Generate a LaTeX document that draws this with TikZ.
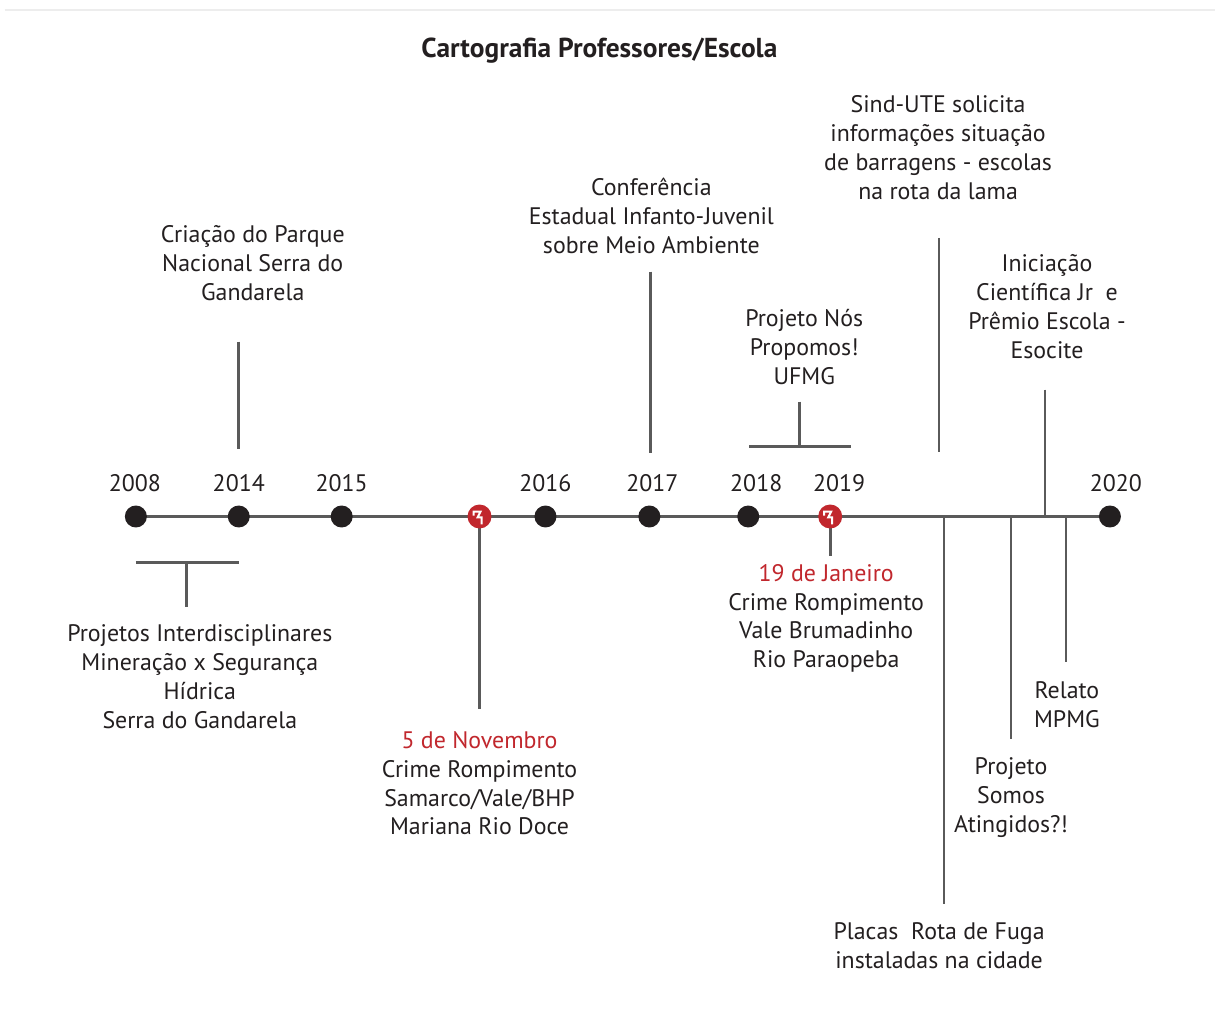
\documentclass[tikz,border=0pt]{standalone}
\usepackage{fontspec}
\setmainfont{PT Sans}
\usetikzlibrary{positioning}
\definecolor{tlred}{HTML}{C1272D}
\definecolor{tlink}{HTML}{231F20}
\definecolor{tlgray}{HTML}{5A5A5A}

\begin{document}
\begin{tikzpicture}[x=.025cm,y=-.025cm,
  evt/.style={align=center,text=tlink,font=\fontsize{17}{20.6}\selectfont},
  yr/.style={text=tlink,font=\fontsize{17}{20.6}\selectfont},
  dot/.style={circle,fill=tlink,inner sep=0pt,minimum size=.55cm},
  crime/.style={circle,fill=tlred,inner sep=0pt,minimum size=.6cm},
  link/.style={draw=tlgray,line width=.07cm}]
\fill[white] (0,0) rectangle (1216,1014);
\draw[black!7,line width=.06cm] (5,10) -- (1216,10);
\node[font=\bfseries\fontsize{19.5}{22}\selectfont,text=tlink] (title) at (600,51) {Cartografia Professores/Escola};
% eixo
\coordinate (axL) at (136,517);
\coordinate (axR) at (1111,517);
\draw[link] (axL) -- (axR);
\foreach \yr/\px in {2008/136,2014/239,2015/342,2016/546,2017/650,2018/749,2020/1111}
  \node[dot] (d\yr) at (\px,517) {};
\foreach \yr/\px in {2008/135,2014/239,2015/342,2016/546,2017/653,2018/757,2019/840,2020/1117}
  \node[yr] (l\yr) at (\px,484) {\yr};
% linhas
\coordinate (a1) at (239,342); \coordinate (a2) at (239,449);
\draw[link] (a1) -- (a2);
\coordinate (b1) at (136,563); \coordinate (b2) at (239,563);
\coordinate (b3) at (187,563); \coordinate (b4) at (187,608);
\draw[link] (b1) -- (b2) (b3) -- (b4);
\coordinate (e1) at (651,272); \coordinate (e2) at (651,453);
\draw[link] (e1) -- (e2);
\coordinate (f1) at (750,447); \coordinate (f2) at (852,447);
\coordinate (f3) at (800,402); \coordinate (f4) at (800,447);
\draw[link] (f1) -- (f2) (f3) -- (f4);
\coordinate (s1) at (940,238); \coordinate (s2) at (940,452);
\draw[link] (s1) -- (s2);
\coordinate (i1) at (1046,390); \coordinate (i2) at (1046,517);
\draw[link] (i1) -- (i2);
\foreach \n/\px/\py in {p/945/905,m/1012/740,r/1067/663}{
  \coordinate (\n1) at (\px,517); \coordinate (\n2) at (\px,\py);
  \draw[link] (\n1) -- (\n2);
}
\coordinate (nv) at (480,710);
\coordinate (jn) at (831,557);
\draw[link] (480,517) -- (nv);
\draw[link] (831,517) -- (jn);
% crimes
\node[crime] (c2015) at (480,517) {};
\node[crime] (c2019) at (831,517) {};
\foreach \c in {c2015,c2019}
  \draw[white,line width=.05cm,line join=miter]
    ([shift={(-6,-1)}]\c.center) -- ([shift={(-6,-5)}]\c.center) -- ([shift={(1,-5)}]\c.center)
    -- ([shift={(-2,1)}]\c.center) -- ([shift={(2,1)}]\c.center) -- ([shift={(2,8)}]\c.center);
% textos
\node[evt] (parque) at (253,263) {Criação do Parque\\Nacional Serra do\\Gandarela};
\node[evt] (conf) at (652,216) {Conferência\\Estadual Infanto-Juvenil\\sobre Meio Ambiente};
\node[evt] (nos) at (805,347) {Projeto Nós\\Propomos!\\UFMG};
\node[evt] (sind) at (939,148) {Sind-UTE solicita\\informações situação\\de barragens - escolas\\na rota da lama};
\node[evt] (inic) at (1048,307) {Iniciação\\Científica Jr\ \ e\\Prêmio Escola -\\Esocite};
\node[evt] (proj) at (200,677) {Projetos Interdisciplinares\\Mineração x Segurança\\Hídrica\\Serra do Gandarela};
\node[evt] (nov) at (480,784) {\textcolor{tlred}{5 de Novembro}\\Crime Rompimento\\Samarco/Vale/BHP\\Mariana Rio Doce};
\node[evt] (jan) at (827,619) {\textcolor{tlred}{19 de Janeiro}\\Crime Rompimento\\Vale Brumadinho\\Rio Paraopeba};
\node[evt] (placas) at (940,947) {Placas\ \ Rota de Fuga\\instaladas na cidade};
\node[evt] (somos) at (1012,798) {Projeto\\Somos\\Atingidos?!};
\node[evt] (relato) at (1068,705) {Relato\\MPMG};
\end{tikzpicture}
\end{document}
